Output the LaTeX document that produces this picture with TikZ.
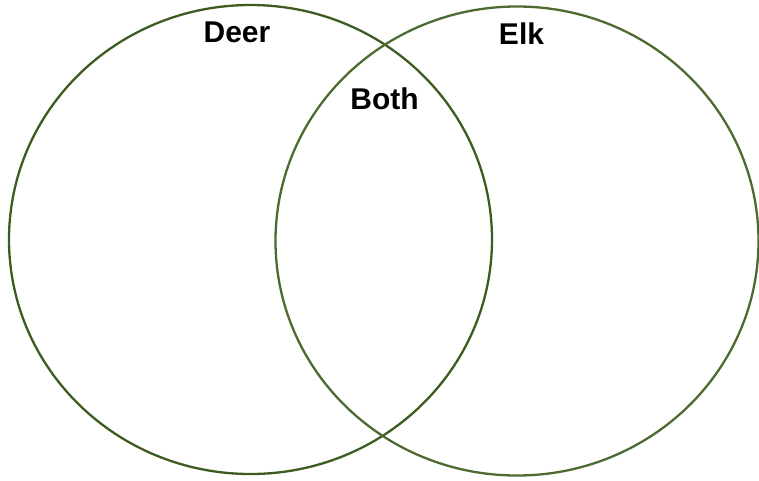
\documentclass[tikz,border=0pt]{standalone}
\usepackage{fontspec}
\setmainfont{Liberation Sans}
\usepackage{tikz}
\usetikzlibrary{
    shapes.geometric,
    positioning
}
\definecolor{deergreen}{HTML}{3D5C1F}
\definecolor{elkgreen}{HTML}{4D6B31}
\tikzset{
    set/.style={
        ellipse,
        draw,
        line width=2.3pt,
        inner sep=0pt,
        minimum width=483pt,
        minimum height=469pt
    },
    setlabel/.style={
        anchor=base,
        inner sep=0pt,
        font=\fontsize{30}{33}\selectfont\bfseries
    }
}

\begin{document}
\begin{tikzpicture}[
    x=1pt,
    y=-1pt
]

    \useasboundingbox (0,0) rectangle (759,480);

    % Conjuntos
    \node[set, draw=deergreen] (deer) at (250.5,239.5) {};
    \node[set, draw=elkgreen]  (elk)  at (517,241)     {};

    % Etiquetas
    \node[setlabel] (deerlbl) at (237,42)    {Deer};
    \node[setlabel] (elklbl)  at (521.5,44)  {Elk};
    \node[setlabel] (bothlbl) at (384.5,109) {Both};

\end{tikzpicture}
\end{document}
